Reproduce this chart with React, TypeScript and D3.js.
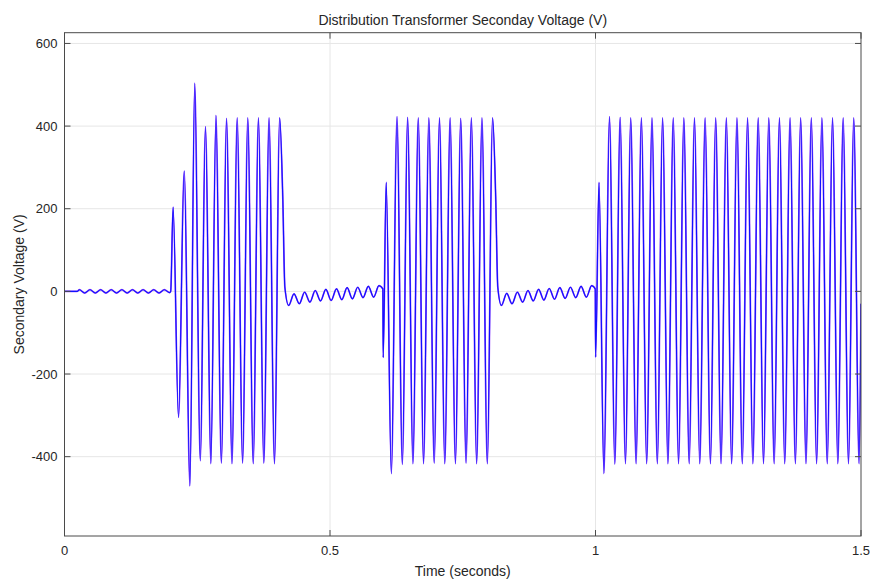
import React from "react";
import * as d3 from "d3";

// Secondary voltage of the distribution transformer: turning points of the trace
// as [time (s), volts]. The trace is drawn through them with a smooth monotone curve.
const preEnergization: [number, number][] = [
  [0.0, 0], [0.024, 0], [0.028, 4], [0.038, -4], [0.048, 4], [0.058, -4],
  [0.068, 4], [0.078, -4], [0.088, 4], [0.098, -4], [0.108, 4], [0.118, -4],
  [0.128, 4], [0.138, -4], [0.148, 4], [0.158, -4], [0.168, 4], [0.178, -4],
  [0.188, 4], [0.198, -3],
];

const firstEnergization: [number, number][] = [
  [0.2, 0], [0.2045, 204], [0.2147, -305], [0.2255, 291], [0.2362, -471],
  [0.2452, 504], [0.2557, -410], [0.2655, 399], [0.2757, -417], [0.2852, 426],
  [0.2954, -416], [0.3052, 419], [0.3154, -417], [0.3252, 420], [0.3354, -416],
  [0.3452, 420], [0.3554, -417], [0.3652, 420], [0.3754, -416], [0.3852, 420],
  [0.3954, -417], [0.4052, 420],
];

const firstDeenergized: [number, number][] = [
  [0.411, 230], [0.415, 10], [0.4222, -34], [0.4322, -6], [0.4422, -30],
  [0.4522, -2], [0.4622, -26], [0.4722, 2], [0.4822, -23], [0.4922, 5],
  [0.5022, -22], [0.5122, 6], [0.5222, -20], [0.5322, 9], [0.5422, -18],
  [0.5522, 10], [0.5622, -15], [0.5722, 12], [0.5822, -14], [0.5922, 14],
  [0.5995, 6],
];

const secondEnergization: [number, number][] = [
  [0.6002, -160], [0.6058, 264], [0.6155, -441], [0.6262, 423], [0.6362, -419],
  [0.6462, 421], [0.6562, -417], [0.6662, 420], [0.6762, -417], [0.6862, 420],
  [0.6962, -416], [0.7062, 420], [0.7162, -417], [0.7262, 420], [0.7362, -417],
  [0.7462, 419], [0.7562, -416], [0.7662, 420], [0.7762, -417], [0.7862, 420],
  [0.7962, -417], [0.8062, 420],
];

const secondDeenergized: [number, number][] = [
  [0.812, 230], [0.816, 10], [0.8228, -34], [0.8328, -5], [0.8428, -30],
  [0.8528, -2], [0.8628, -26], [0.8728, 2], [0.8828, -23], [0.8928, 5],
  [0.9028, -21], [0.9128, 7], [0.9228, -19], [0.9328, 9], [0.9428, -17],
  [0.9528, 10], [0.9628, -15], [0.9728, 12], [0.9828, -14], [0.9928, 14],
  [0.9995, 6],
];

const thirdEnergization: [number, number][] = [
  [1.0002, -159], [1.0066, 264], [1.0158, -441], [1.0264, 423], [1.0364, -418],
  [1.0464, 421], [1.0564, -417], [1.0664, 420], [1.0764, -417], [1.0864, 420],
  [1.0964, -417], [1.1064, 420], [1.1164, -417], [1.1264, 420], [1.1364, -417],
  [1.1464, 420], [1.1564, -417], [1.1664, 420], [1.1764, -417], [1.1864, 420],
  [1.1964, -417], [1.2064, 420], [1.2164, -417], [1.2264, 420], [1.2364, -417],
  [1.2464, 420], [1.2564, -417], [1.2664, 420], [1.2764, -417], [1.2864, 420],
  [1.2964, -417], [1.3064, 420], [1.3164, -417], [1.3264, 420], [1.3364, -417],
  [1.3464, 420], [1.3564, -417], [1.3664, 420], [1.3764, -417], [1.3864, 420],
  [1.3964, -417], [1.4064, 420], [1.4164, -417], [1.4264, 420], [1.4364, -417],
  [1.4464, 420], [1.4564, -417], [1.4664, 420], [1.4764, -417], [1.4864, 420],
  [1.4964, -417], [1.5, -30],
];

const xTicks = [0, 0.5, 1, 1.5];
const xTickLabels = ["0", "0.5", "1", "1.5"];
const yTicks = [-400, -200, 0, 200, 400, 600];
const yTickLabels = ["-400", "-200", "0", "200", "400", "600"];

const titleText = "Distribution Transformer Seconday Voltage (V)";
const xLabelText = "Time (seconds)";
const yLabelText = "Secondary Voltage (V)";

const W = 885;
const H = 579;
const left = 64.5;
const right = 861;
const top = 32.7;
const bottom = 536;

const ink = "#262626";
const font = "'Liberation Sans', Arial, Helvetica, sans-serif";

export default function App() {
  const x = d3.scaleLinear().domain([0, 1.5]).range([left, right]);
  const y = d3.scaleLinear().domain([-592, 626]).range([bottom, top]);

  const trace = [
    ...preEnergization,
    ...firstEnergization,
    ...firstDeenergized,
    ...secondEnergization,
    ...secondDeenergized,
    ...thirdEnergization,
  ];

  const line = d3
    .line<[number, number]>()
    .x((d) => x(d[0]))
    .y((d) => y(d[1]))
    .curve(d3.curveMonotoneX);

  const path = line(trace) ?? "";
  const tickLen = 6;

  return (
    <svg
      width={W}
      height={H}
      style={{ position: "absolute", left: 0, top: 0, background: "#fff" }}
      fontFamily={font}
    >
      <defs>
        <clipPath id="plot-area">
          <rect x={left} y={top} width={right - left} height={bottom - top} />
        </clipPath>
      </defs>
      <rect x={0} y={0} width={W} height={H} fill="#fff" />

      {/* grid */}
      <g stroke="#e6e6e6" strokeWidth={1}>
        {xTicks
          .filter((t) => t > 0 && t < 1.5)
          .map((t) => (
            <line key={"gx" + t} x1={x(t)} x2={x(t)} y1={top} y2={bottom} />
          ))}
        {yTicks.map((t) => (
          <line key={"gy" + t} x1={left} x2={right} y1={y(t)} y2={y(t)} />
        ))}
      </g>

      {/* voltage trace */}
      <g clipPath="url(#plot-area)" fill="none" strokeLinejoin="round">
        <path d={path} stroke="#9a4cff" strokeWidth={1.7} />
        <path d={path} stroke="#1010ff" strokeWidth={1.15} />
      </g>

      {/* axes box and ticks */}
      <g stroke="#4a4a4a" strokeWidth={1} fill="none">
        <rect x={left} y={top} width={right - left} height={bottom - top} />
        {xTicks.map((t) => (
          <g key={"tx" + t}>
            <line x1={x(t)} x2={x(t)} y1={bottom} y2={bottom - tickLen} />
            <line x1={x(t)} x2={x(t)} y1={top} y2={top + tickLen} />
          </g>
        ))}
        {yTicks.map((t) => (
          <g key={"ty" + t}>
            <line x1={left} x2={left + tickLen} y1={y(t)} y2={y(t)} />
            <line x1={right} x2={right - tickLen} y1={y(t)} y2={y(t)} />
          </g>
        ))}
      </g>

      {/* tick labels */}
      <g fill={ink} fontSize={13}>
        {xTicks.map((t, i) => (
          <text key={"lx" + t} x={x(t)} y={bottom + 19} textAnchor="middle">
            {xTickLabels[i]}
          </text>
        ))}
        {yTicks.map((t, i) => (
          <text key={"ly" + t} x={left - 7} y={y(t) + 4.5} textAnchor="end">
            {yTickLabels[i]}
          </text>
        ))}
      </g>

      {/* titles */}
      <text x={(left + right) / 2} y={25} textAnchor="middle" fill={ink} fontSize={14}>
        {titleText}
      </text>
      <text x={(left + right) / 2} y={576} textAnchor="middle" fill={ink} fontSize={14}>
        {xLabelText}
      </text>
      <text
        transform={`translate(24, ${(top + bottom) / 2}) rotate(-90)`}
        textAnchor="middle"
        fill={ink}
        fontSize={14}
      >
        {yLabelText}
      </text>
    </svg>
  );
}
